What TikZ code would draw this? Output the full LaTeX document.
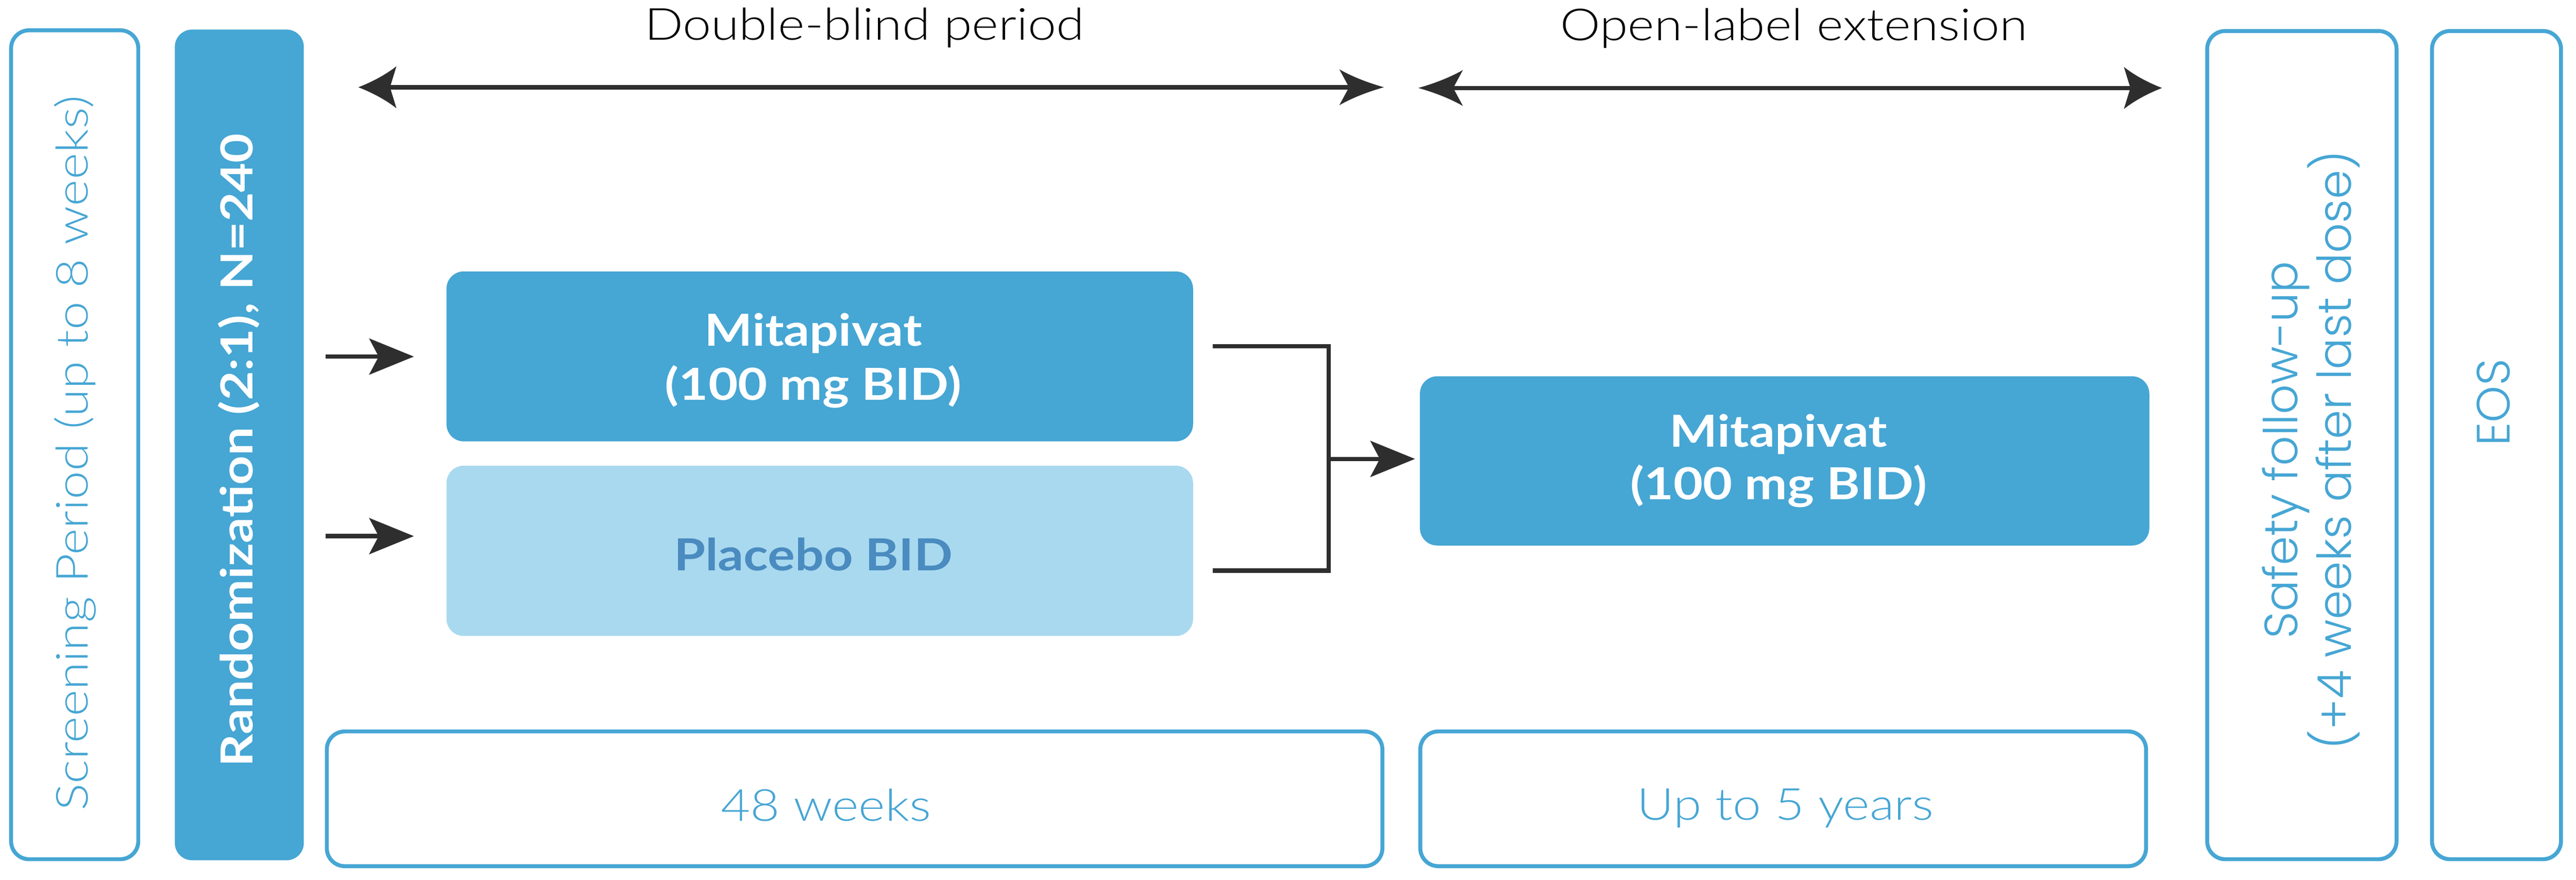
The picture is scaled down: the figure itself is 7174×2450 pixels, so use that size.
\documentclass[tikz,border=0pt]{standalone}
\usepackage{fontspec}
\setmainfont{Lato}[UprightFont={* Light},BoldFont={* Bold},FakeStretch=1.15]
\newfontfamily\geofont{Poppins}[UprightFont={* Light}]
\usetikzlibrary{arrows.meta}
\definecolor{cblue}{HTML}{46A6D4}
\definecolor{clight}{HTML}{A9D9EF}
\definecolor{cplac}{HTML}{4A8BC0}
\definecolor{cdark}{HTML}{2E2E2E}
\pgfdeclarearrow{
  name=Swept,
  parameters={\the\pgfarrowlength,\the\pgfarrowwidth,\the\pgfarrowinset},
  setup code={
    \pgfarrowssettipend{\pgfarrowlength}
    \pgfarrowssetlineend{\pgfarrowinset}
    \pgfarrowssetbackend{0pt}
    \pgfarrowssetvisualbackend{\pgfarrowinset}
    \pgfarrowssavethe\pgfarrowlength
    \pgfarrowssavethe\pgfarrowwidth
    \pgfarrowssavethe\pgfarrowinset
  },
  drawing code={
    \pgfpathmoveto{\pgfpoint{\pgfarrowlength}{0pt}}
    \pgfpathcurveto{\pgfpoint{0.6\pgfarrowlength}{0.14\pgfarrowwidth}}{\pgfpoint{0.25\pgfarrowlength}{0.32\pgfarrowwidth}}{\pgfpoint{0pt}{0.5\pgfarrowwidth}}
    \pgfpathlineto{\pgfpoint{\pgfarrowinset}{0pt}}
    \pgfpathlineto{\pgfpoint{0pt}{-0.5\pgfarrowwidth}}
    \pgfpathcurveto{\pgfpoint{0.25\pgfarrowlength}{-0.32\pgfarrowwidth}}{\pgfpoint{0.6\pgfarrowlength}{-0.14\pgfarrowwidth}}{\pgfpoint{\pgfarrowlength}{0pt}}
    \pgfpathclose
    \pgfusepathqfill
  },
  defaults={length=1cm,width=1cm,inset=0.2cm}
}
\begin{document}
\begin{tikzpicture}[x=0.01cm,y=-0.01cm,
  outlinebox/.style={draw=cblue,line width=0.11cm,rounded corners=0.5cm,inner sep=0pt},
  fillbox/.style={fill=cblue,draw=none,rounded corners=0.48cm,inner sep=0pt},
  lightbox/.style={fill=clight,draw=none,rounded corners=0.48cm,inner sep=0pt},
  lbl/.style={inner sep=0pt,anchor=base},
  lighttxt/.style={lbl,font=\fontsize{35}{40}\selectfont},
  boldtxt/.style={lbl,font=\bfseries\fontsize{35}{40}\selectfont},
  geotxt/.style={lbl,font=\geofont\fontsize{37}{40}\selectfont,text=cblue},
  conn/.style={color=cdark,line width=0.12cm},
  arrowhd/.style={conn,-{Stealth[length=1.24cm,width=1.0cm,inset=0.26cm]}},
  wideTip/.tip={Swept[length=1.06cm,width=1.17cm,inset=0.18cm]},
  narrowTip/.tip={Swept[length=1.24cm,width=1.0cm,inset=0.27cm]}
]
\useasboundingbox (0,0) rectangle (7174,2450);

% boxes
\node[outlinebox,minimum width=3.54cm,minimum height=23.07cm] (scr) at (208,1238.5) {};
\node[fillbox,minimum width=3.59cm,minimum height=23.12cm] (rand) at (666.5,1239) {};
\node[fillbox,minimum width=20.78cm,minimum height=4.73cm] (mita) at (2283,992.5) {};
\node[lightbox,minimum width=20.78cm,minimum height=4.74cm] (plac) at (2283,1534) {};
\node[fillbox,minimum width=20.30cm,minimum height=4.71cm] (ole) at (4970,1283.5) {};
\node[outlinebox,minimum width=29.38cm,minimum height=3.75cm] (wk48) at (2380,2224.5) {};
\node[outlinebox,minimum width=20.20cm,minimum height=3.75cm] (yr5) at (4966,2224.5) {};
\node[outlinebox,minimum width=5.27cm,minimum height=23.05cm] (safe) at (6410.5,1239.5) {};
\node[outlinebox,minimum width=3.59cm,minimum height=23.05cm] (eos) at (6952.5,1239.5) {};

% texts
\node[lighttxt,text=black] (dbT) at (2407,111) {Double-blind period};
\node[lighttxt,text=black] (olT) at (4996,112) {Open-label extension};
\node[lighttxt,text=cblue,rotate=90] (scrT) at (244,1262) {Screening Period (up to 8 weeks)};
\node[boldtxt,text=white,rotate=90] (randT) at (704,1254) {Randomization (2:1), N=240};
\node[boldtxt,text=white] (mitaT1) at (2265,964) {Mitapivat};
\node[boldtxt,text=white] (mitaT2) at (2265,1114) {(100 mg BID)};
\node[boldtxt,text=cplac] (placT) at (2265,1589) {Placebo BID};
\node[boldtxt,text=white] (oleT1) at (4953,1245) {Mitapivat};
\node[boldtxt,text=white] (oleT2) at (4953,1391) {(100 mg BID)};
\node[lighttxt,text=cblue] (wkT) at (2300,2287) {48 weeks};
\node[lighttxt,text=cblue] (yrT) at (4972,2284) {Up to 5 years};
\node[geotxt,rotate=90] (safeT1) at (6398,1253) {Safety follow-up};
\node[geotxt,rotate=90] (safeT2) at (6548,1253) {(+4 weeks after last dose)};
\node[geotxt,rotate=90] (eosT) at (6989,1121) {EOS};

% period arrows
\coordinate (dbL) at (998,243);
\coordinate (dbR) at (3854,243);
\coordinate (olL) at (3950,245);
\coordinate (olR) at (6021,245);
\draw[conn,{wideTip}-{narrowTip}] (dbL) -- (dbR);
\draw[conn,{narrowTip}-{wideTip}] (olL) -- (olR);

% randomization arrows
\coordinate (inA) at (907,993);
\coordinate (inB) at (907,1493);
\draw[arrowhd,shorten >=0.90cm] (inA) -- (inA -| mita.west);
\draw[arrowhd,shorten >=0.90cm] (inB) -- (inB -| plac.west);

% bracket
\coordinate (brTL) at (3378,964);
\coordinate (brTR) at (3700,964);
\coordinate (brBR) at (3700,1589);
\coordinate (brBL) at (3378,1589);
\coordinate (brM) at (3700,1278);
\draw[conn,line join=miter] (brTL) -- (brTR) -- (brBR) -- (brBL);
\draw[arrowhd,shorten >=0.13cm] (brM) -- (brM -| ole.west);
\end{tikzpicture}
\end{document}
